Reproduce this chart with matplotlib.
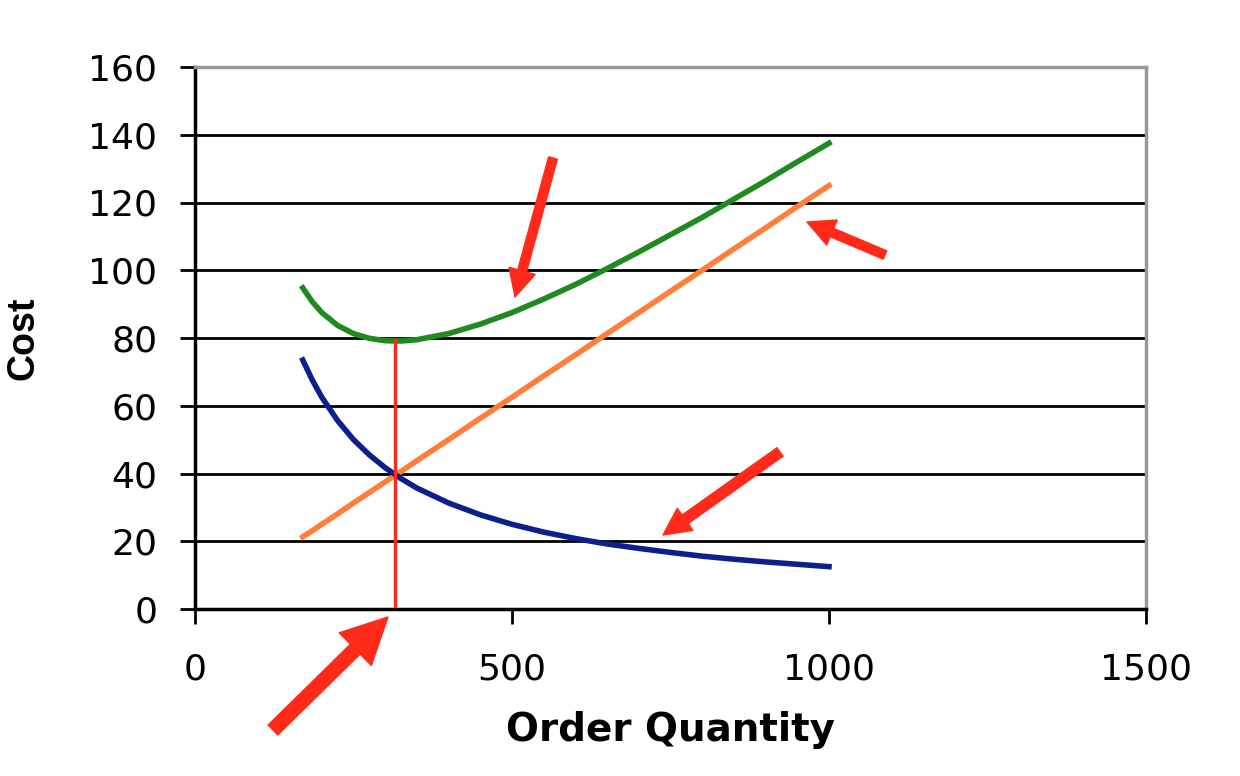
import matplotlib
matplotlib.use("Agg")
from matplotlib import pyplot as plt

# order quantity and the three cost curves
qty = [170, 185, 200, 225, 250, 275, 300, 325, 350, 400, 450, 500, 550, 600,
       650, 700, 750, 800, 850, 900, 950, 1000]
ordering_cost = [73.5, 67.6, 62.5, 55.6, 50.0, 45.5, 41.7, 38.5, 35.7, 31.3,
                 27.8, 25.0, 22.7, 20.8, 19.2, 17.9, 16.7, 15.6, 14.7, 13.9,
                 13.2, 12.5]
holding_cost = [21.3, 23.1, 25.0, 28.1, 31.3, 34.4, 37.5, 40.6, 43.8, 50.0,
                56.3, 62.5, 68.8, 75.0, 81.3, 87.5, 93.8, 100.0, 106.3, 112.5,
                118.8, 125.0]
total_cost = [94.8, 90.7, 87.5, 83.7, 81.3, 79.9, 79.2, 79.1, 79.5, 81.3,
              84.1, 87.5, 91.5, 95.8, 100.5, 105.4, 110.5, 115.6, 121.0, 126.4,
              132.0, 137.5]

eoq = 316
eoq_cost = 79.5

xticks = [0, 500, 1000, 1500]
yticks = [0, 20, 40, 60, 80, 100, 120, 140, 160]

plt.rcParams['font.family'] = ['DejaVu Sans']

fig = plt.figure(figsize=(12.4, 7.76), dpi=100)
ax = fig.add_axes([195 / 1240, 1 - 609 / 776, (1146 - 195) / 1240, (609 - 67) / 776])

for y in yticks[1:-1]:
    ax.axhline(y, color="black", lw=2, zorder=1)

ax.plot(qty, total_cost, color="#1f8a1f", lw=4.0, zorder=3)
ax.plot(qty, holding_cost, color="#ff7f3a", lw=4.0, zorder=3)
ax.plot(qty, ordering_cost, color="#0d1f8c", lw=4.0, zorder=3)
ax.plot([eoq, eoq], [1, eoq_cost], color="#ff2a1a", lw=2.4, zorder=4)

ax.set_xlim(0, 1500)
ax.set_ylim(0, 160)
ax.set_xticks(xticks)
ax.set_yticks(yticks)
ax.tick_params(axis="both", direction="out", length=11, width=2, labelsize=26, color="black")
ax.tick_params(axis="x", pad=20)
ax.tick_params(axis="y", pad=16)

for s in ["left", "bottom"]:
    ax.spines[s].set_color("black")
    ax.spines[s].set_linewidth(2.5)
for s in ["top", "right"]:
    ax.spines[s].set_color("#999999")
    ax.spines[s].set_linewidth(2.5)

ax.set_xlabel("Order Quantity", fontsize=28, fontweight="bold", labelpad=18)
ax.set_ylabel("Cost", fontsize=27, fontweight="bold", labelpad=34,
              family=["Liberation Sans Narrow", "Liberation Sans"])

# red pointer arrows: tail, tip, head size, tail width
arrows = [((553, 158), (515, 297), 1.95, 0.65),
          ((885, 255), (807, 222), 1.95, 0.65),
          ((780, 452), (663, 535), 1.95, 0.75),
          ((273, 730), (388, 617), 3.3, 1.0)]
for (x0, y0), (x1, y1), head, tail in arrows:
    style = f"simple,head_length={head},head_width={head},tail_width={tail}"
    ax.annotate("", xy=(x1, 776 - y1), xytext=(x0, 776 - y0),
                xycoords="figure pixels", textcoords="figure pixels",
                annotation_clip=False,
                arrowprops=dict(arrowstyle=style, color="#ff2a1a",
                                shrinkA=0, shrinkB=0))

fig.savefig("out.png", dpi=100)
